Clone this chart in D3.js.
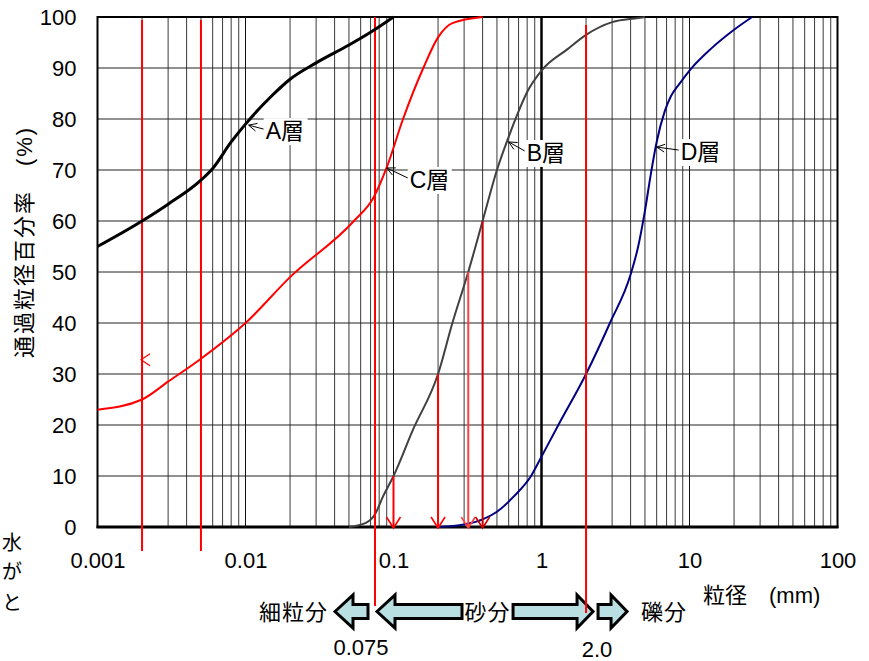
<!DOCTYPE html>
<html>
<head>
<meta charset="utf-8">
<script src="https://cdn.jsdelivr.net/npm/d3@7"></script>
<style>
  body { margin: 0; background: #fff; }
  svg text { font-family: "Liberation Sans", Arial, "Noto Sans CJK JP", sans-serif; fill: #000; }
</style>
</head>
<body>
<script>
// 粒径加積曲線のデータ (粒径 mm, 通過百分率 %)
var sizeA = [0.001, 0.002, 0.003, 0.005, 0.006, 0.008, 0.01, 0.015, 0.02, 0.03, 0.05, 0.07, 0.1];
var passA = [55, 60, 63.3, 68, 70.3, 75.5, 79, 84.5, 87.8, 91, 94.5, 97, 100];

var sizeB = [0.05, 0.065, 0.075, 0.085, 0.1, 0.135, 0.2, 0.25, 0.32, 0.4, 0.5, 0.6, 0.7, 0.8, 1.0, 1.5, 2.0, 3.0, 4.5, 5.0];
var passB = [0, 0.8, 2.5, 6, 10, 19, 30, 40, 50, 60, 70, 76.5, 81.5, 85.3, 89.5, 93.7, 96.5, 99, 99.8, 100];

var sizeC = [0.001, 0.002, 0.003, 0.005, 0.01, 0.02, 0.054, 0.073, 0.09, 0.116, 0.159, 0.2, 0.25, 0.4];
var passC = [23, 25, 28.5, 33, 40, 49, 60, 64.5, 70.5, 80, 90, 96, 98.8, 100];

var sizeD = [0.2, 0.3, 0.4, 0.5, 0.65, 0.85, 1.0, 1.3, 2.0, 2.9, 4.0, 4.5, 5.0, 5.5, 6.0, 6.8, 7.5, 8.5, 10, 14, 20, 26.5];
var passD = [0, 0.5, 1.5, 3, 6, 10, 13.8, 20, 30, 40, 49.5, 55, 62, 69.5, 75.5, 81.5, 84.5, 86.8, 89.5, 93.8, 97.5, 100];

var layerNames = ["A層", "B層", "C層", "D層"];
var layerColors = ["#000000", "#404040", "#ff0000", "#000080"];
var layerWidths = [3, 2, 2, 2];
// 引出し線の指す点
var calloutSize = [0.0105, 0.6, 0.09, 6.0];
var calloutPass = [78.8, 75.5, 70.4, 74.5];

var xTicks = [0.001, 0.01, 0.1, 1, 10, 100];
var yTicks = [0, 10, 20, 30, 40, 50, 60, 70, 80, 90, 100];

// 赤い縦線 (粒径 mm)
var markLines = [0.002, 0.005, 0.075, 2.0];
// 赤い下向き矢印 (粒径, 開始する通過率)
var dropSize = [0.1, 0.2, 0.32, 0.4];
var dropPass = [10, 30, 50, 60];
var dropColors = ["#ff0000", "#ff0000", "#ff4040", "#cc0000"];

var boundLabels = ["0.075", "2.0"];
var fractionNames = ["細粒分", "砂分", "礫分"];

var width = 869, height = 661;
var plot = {left: 97.5, right: 837.5, top: 17, bottom: 527};

var svg = d3.select("body").append("svg")
    .attr("width", width)
    .attr("height", height);

var x = d3.scaleLog().domain([0.001, 100]).range([plot.left, plot.right]);
var y = d3.scaleLinear().domain([0, 100]).range([plot.bottom, plot.top]);

// 格子
var minor = [];
[0.001, 0.01, 0.1, 1, 10].forEach(function(d) {
    for (var k = 2; k <= 9; k++) minor.push(d * k);
});
var grid = svg.append("g").attr("class", "grid");
grid.selectAll(".vminor").data(minor).enter().append("line")
    .attr("x1", function(d) { return x(d); })
    .attr("x2", function(d) { return x(d); })
    .attr("y1", plot.top).attr("y2", plot.bottom)
    .style("stroke", "#3a3a3a").style("stroke-width", 1);
grid.selectAll(".vmajor").data([0.01, 0.1, 10]).enter().append("line")
    .attr("x1", function(d) { return x(d); })
    .attr("x2", function(d) { return x(d); })
    .attr("y1", plot.top).attr("y2", plot.bottom)
    .style("stroke", "#111").style("stroke-width", 1);
grid.selectAll(".h").data(yTicks.slice(1, -1)).enter().append("line")
    .attr("x1", plot.left).attr("x2", plot.right)
    .attr("y1", function(d) { return y(d); })
    .attr("y2", function(d) { return y(d); })
    .style("stroke", "#222").style("stroke-width", 1);
grid.append("line")
    .attr("x1", x(1)).attr("x2", x(1))
    .attr("y1", plot.top).attr("y2", plot.bottom)
    .style("stroke", "#000").style("stroke-width", 2.5);

// 枠
svg.append("rect")
    .attr("x", plot.left).attr("y", plot.top)
    .attr("width", plot.right - plot.left)
    .attr("height", plot.bottom - plot.top)
    .style("fill", "none").style("stroke", "#000").style("stroke-width", 2);
svg.append("line")
    .attr("x1", plot.left - 1).attr("x2", plot.right + 1)
    .attr("y1", plot.bottom).attr("y2", plot.bottom)
    .style("stroke", "#000").style("stroke-width", 3);

// 軸ラベル
var xAxis = d3.axisBottom(x).tickValues(xTicks).tickSize(0).tickPadding(25)
    .tickFormat(function(d) { return String(d); });
var gx = svg.append("g").attr("transform", "translate(0," + plot.bottom + ")").call(xAxis);
gx.select(".domain").remove();
gx.selectAll("text").style("font-size", "22px")
    .style("font-family", "'Liberation Sans', Arial, sans-serif").attr("fill", "#000");

var yAxis = d3.axisLeft(y).tickValues(yTicks).tickSize(0).tickPadding(21);
var gy = svg.append("g").attr("transform", "translate(" + plot.left + ",0)").call(yAxis);
gy.select(".domain").remove();
gy.selectAll("text").style("font-size", "22px")
    .style("font-family", "'Liberation Sans', Arial, sans-serif").attr("fill", "#000");

svg.append("text")
    .attr("transform", "translate(32,242) rotate(-90)")
    .style("text-anchor", "middle")
    .style("font-size", "22px")
    .style("letter-spacing", "2px")
    .text("通過粒径百分率　(%)");

svg.append("text")
    .attr("x", 703).attr("y", 603)
    .style("font-size", "22px")
    .text("粒径　(mm)");

// 左端の文字 (隣の文章の一部)
[["水", 550], ["が", 579], ["と", 610]].forEach(function(t) {
    svg.append("text").attr("x", 22).attr("y", t[1])
        .style("text-anchor", "end").style("font-size", "20px").text(t[0]);
});

// 曲線
var line = d3.line()
    .x(function(d) { return x(d[0]); })
    .y(function(d) { return y(d[1]); })
    .curve(d3.curveMonotoneX);
var series = [d3.zip(sizeA, passA), d3.zip(sizeB, passB), d3.zip(sizeC, passC), d3.zip(sizeD, passD)];

function drawCurve(i) {
    svg.append("path")
        .datum(series[i])
        .attr("d", line)
        .style("fill", "none")
        .style("stroke", layerColors[i])
        .style("stroke-width", layerWidths[i])
        .style("stroke-linejoin", "round");
}
drawCurve(2);
drawCurve(1);
drawCurve(3);

// 区分矢印 (細粒分・砂分・礫分)
var xf = x(0.075), xs = x(2);
var yc = 611.5, hh = 16.5, bh = 7;
var arrows = [
    [[xf - 40, yc], [xf - 22, yc - hh], [xf - 22, yc - bh], [xf - 7, yc - bh], [xf - 7, yc + bh], [xf - 22, yc + bh], [xf - 22, yc + hh]],
    [[xf + 2, yc], [xf + 20, yc - hh], [xf + 20, yc - bh], [xf + 87, yc - bh], [xf + 87, yc + bh], [xf + 20, yc + bh], [xf + 20, yc + hh]],
    [[xs - 73, yc - bh], [xs - 9, yc - bh], [xs - 9, yc - hh], [xs + 7, yc], [xs - 9, yc + hh], [xs - 9, yc + bh], [xs - 73, yc + bh]],
    [[xs + 12, yc - bh], [xs + 25, yc - bh], [xs + 25, yc - hh], [xs + 41, yc], [xs + 25, yc + hh], [xs + 25, yc + bh], [xs + 12, yc + bh]]
];
svg.selectAll(".frac").data(arrows).enter().append("polygon")
    .attr("points", function(d) { return d.map(function(p) { return p.join(","); }).join(" "); })
    .style("fill", "#b9dfe3")
    .style("stroke", "#000")
    .style("stroke-width", 3)
    .style("stroke-linejoin", "miter");

svg.append("text").attr("x", xf - 47).attr("y", yc + 8)
    .style("text-anchor", "end").style("font-size", "22px").style("letter-spacing", "1px")
    .text(fractionNames[0]);
svg.append("text").attr("x", (xf + 87 + xs - 73) / 2).attr("y", yc + 8)
    .style("text-anchor", "middle").style("font-size", "22px").style("letter-spacing", "1px")
    .text(fractionNames[1]);
svg.append("text").attr("x", xs + 55).attr("y", yc + 8)
    .style("font-size", "22px").style("letter-spacing", "1px")
    .text(fractionNames[2]);

svg.append("text").attr("x", xf - 14).attr("y", 655)
    .style("text-anchor", "middle").style("font-size", "22px").text(boundLabels[0]);
svg.append("text").attr("x", xs + 11).attr("y", 657)
    .style("text-anchor", "middle").style("font-size", "22px").text(boundLabels[1]);

// 赤い縦線
var markTop = [20, 20, plot.top, 25];
var markBottom = [551, 551, 606, 613];
svg.selectAll(".mark").data(markLines).enter().append("line")
    .attr("x1", function(d) { return x(d); })
    .attr("x2", function(d) { return x(d); })
    .attr("y1", function(d, i) { return markTop[i]; })
    .attr("y2", function(d, i) { return markBottom[i]; })
    .style("stroke", "#ff0000").style("stroke-width", 2);

// 0.002 の位置の小さな矢じり
svg.append("path")
    .attr("d", "M" + (x(0.002) + 8) + "," + (y(32.8) - 6) + "L" + (x(0.002) - 1) + "," + y(32.8) +
        "L" + (x(0.002) + 8) + "," + (y(32.8) + 6))
    .style("fill", "none").style("stroke", "#ff0000").style("stroke-width", 1.2);

// 下向き矢印
var drops = svg.selectAll(".drop").data(dropSize).enter().append("g");
drops.append("line")
    .attr("x1", function(d) { return x(d); })
    .attr("x2", function(d) { return x(d); })
    .attr("y1", function(d, i) { return y(dropPass[i]); })
    .attr("y2", plot.bottom)
    .style("stroke", function(d, i) { return dropColors[i]; })
    .style("stroke-width", 2);
drops.append("path")
    .attr("d", function(d) {
        var px = x(d), py = plot.bottom + 1;
        return "M" + (px - 7) + "," + (py - 11) + "L" + px + "," + py + "L" + (px + 7) + "," + (py - 11);
    })
    .style("fill", "none")
    .style("stroke", function(d, i) { return dropColors[i]; })
    .style("stroke-width", 1.6);

drawCurve(0);

// 層ラベル (白抜き + 引出し線)
var labelDx = [17, 18, 23, 24];
var labelDy = [14, 19, 20, 13];
layerNames.forEach(function(name, i) {
    var tx = x(calloutSize[i]), ty = y(calloutPass[i]);
    var lx = tx + labelDx[i], ly = ty + labelDy[i];
    svg.append("rect")
        .attr("x", lx - 2).attr("y", ly - 21)
        .attr("width", 44).attr("height", 27)
        .style("fill", "#fff");
    var ex = lx - 2, ey = ly - 10;
    var ang = Math.atan2(ey - ty, ex - tx);
    var a1 = ang + 0.45, a2 = ang - 0.45, len = 9;
    svg.append("path")
        .attr("d", "M" + ex + "," + ey + "L" + tx + "," + ty +
            "M" + (tx + len * Math.cos(a1)) + "," + (ty + len * Math.sin(a1)) +
            "L" + tx + "," + ty +
            "L" + (tx + len * Math.cos(a2)) + "," + (ty + len * Math.sin(a2)))
        .style("fill", "none").style("stroke", "#000").style("stroke-width", 1);
    svg.append("text")
        .attr("x", lx).attr("y", ly)
        .style("font-size", "23px")
        .text(name);
});
</script>
</body>
</html>
